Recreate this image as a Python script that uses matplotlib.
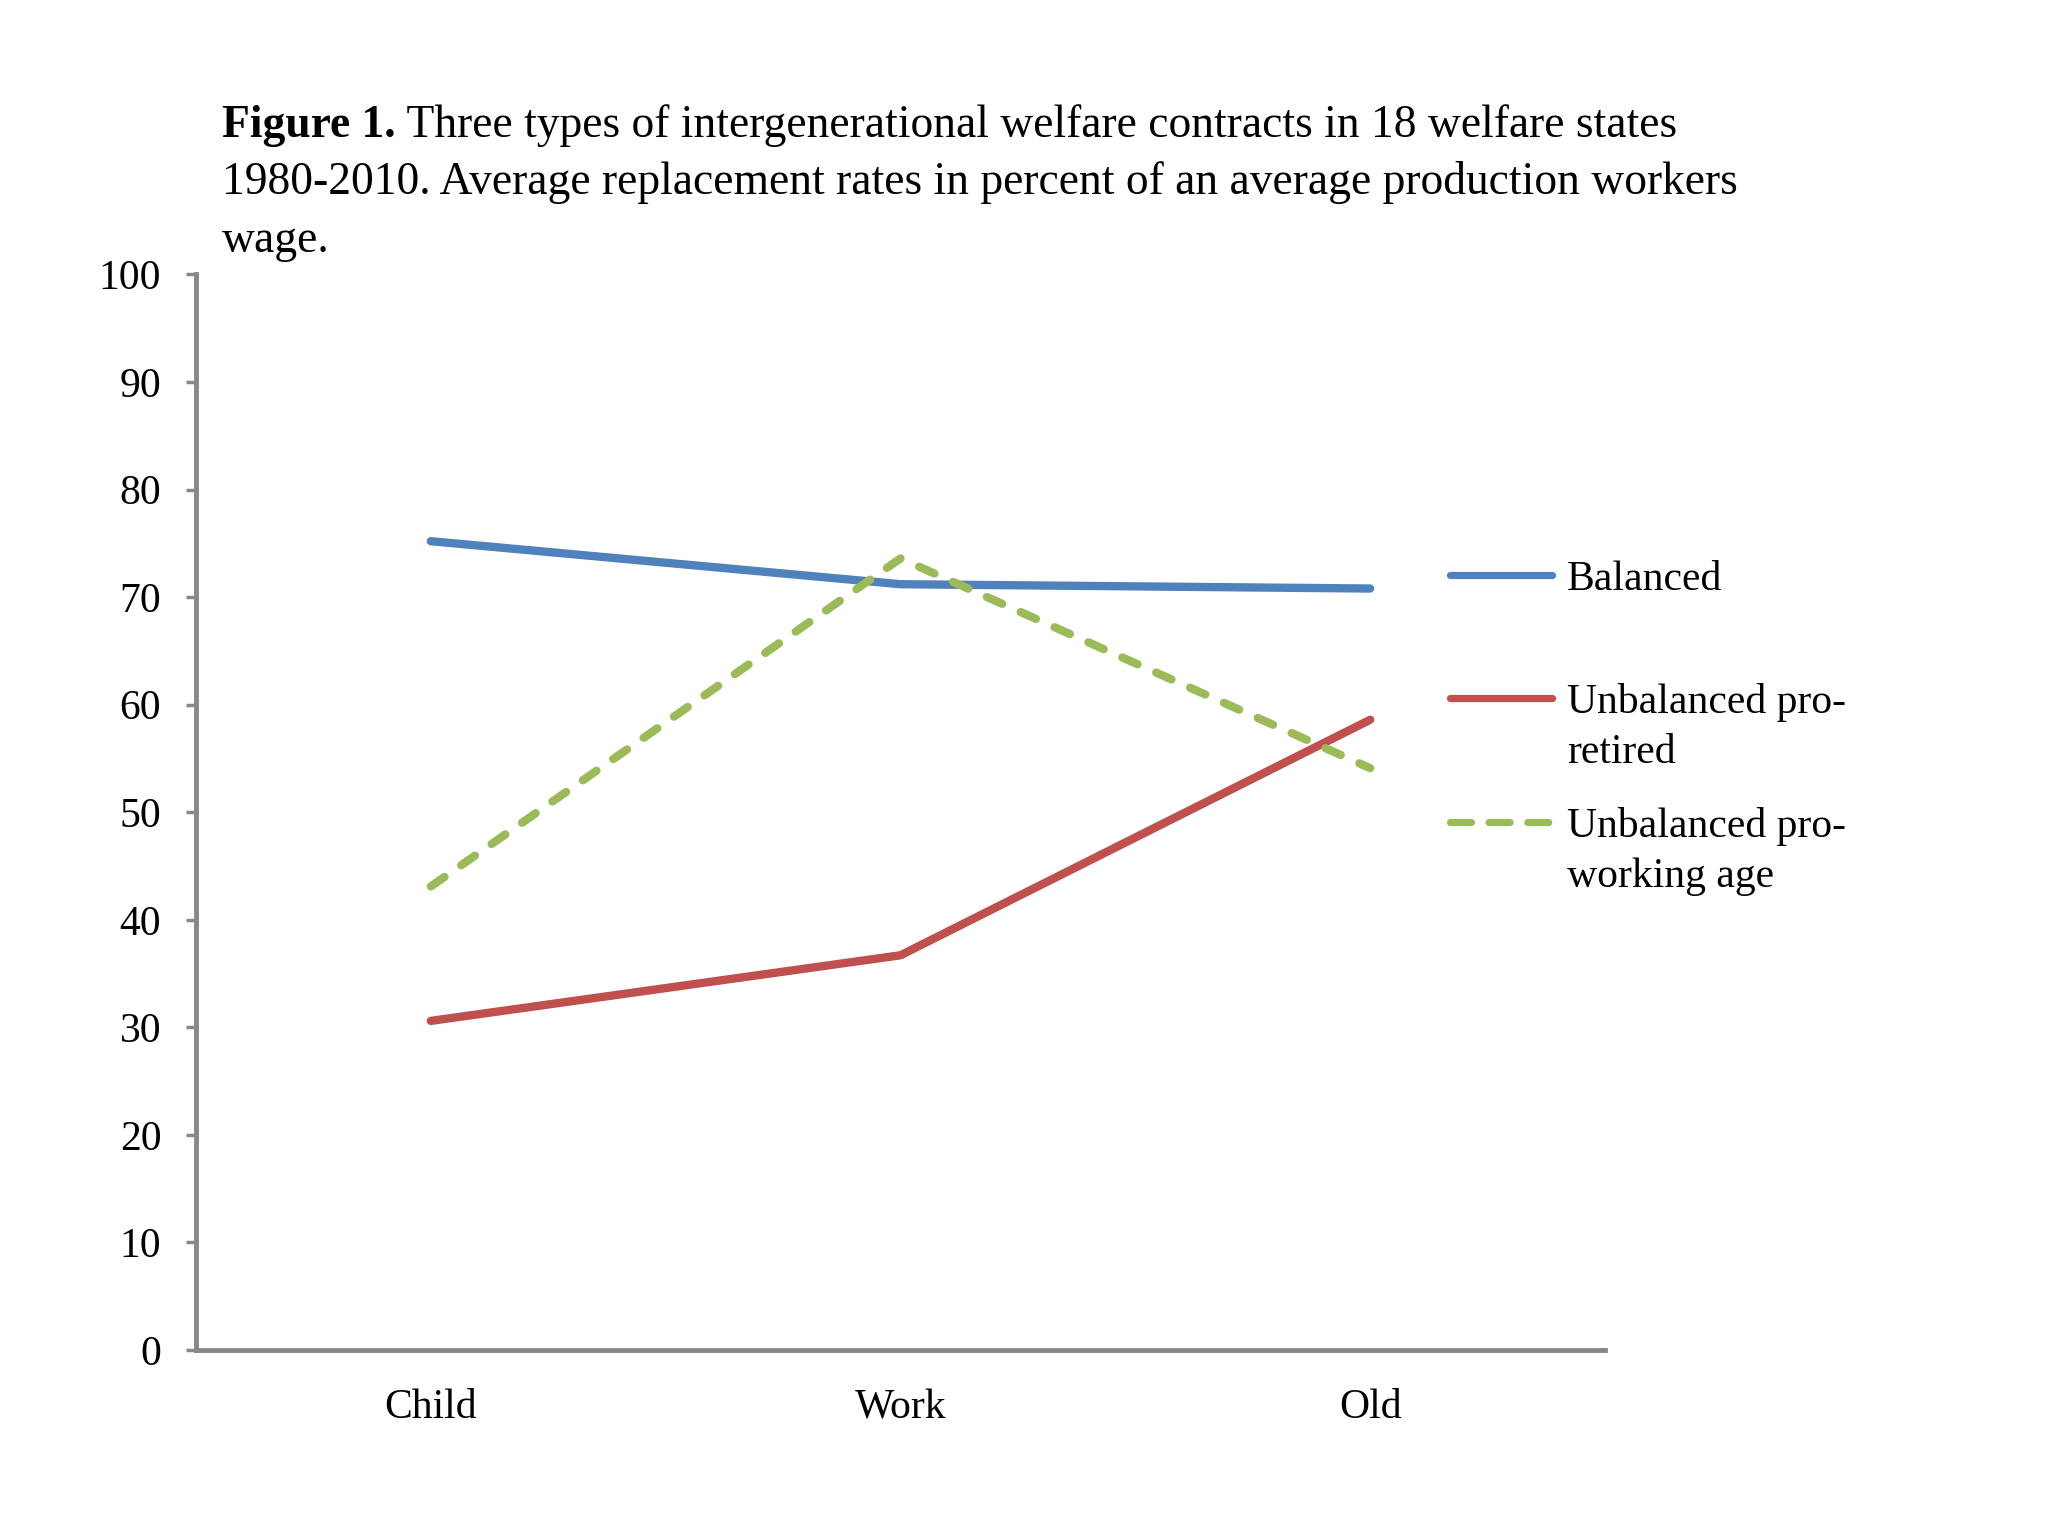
import matplotlib
matplotlib.use('Agg')
from matplotlib import pyplot as plt
from matplotlib.lines import Line2D

plt.rcParams['font.family'] = ['Liberation Serif', 'DejaVu Serif']

# data
categories = ['Child', 'Work', 'Old']
balanced = [75.2, 71.2, 70.8]
pro_retired = [30.6, 36.7, 58.6]
pro_working = [43.1, 73.6, 54.1]

series_labels = ['Balanced', 'Unbalanced pro-\nretired', 'Unbalanced pro-\nworking age']
y_ticks = [0, 10, 20, 30, 40, 50, 60, 70, 80, 90, 100]

blue = '#4F81BD'
red = '#C0504D'
green = '#9BBB59'

fig = plt.figure(figsize=(20.48, 15.36), dpi=100)
ax = fig.add_axes([0.0957, 0.1211, 0.6880, 0.7002])

x = list(range(len(categories)))
ax.plot(x, balanced, color=blue, lw=6, solid_capstyle='round')
ax.plot(x, pro_retired, color=red, lw=6, solid_capstyle='round')
ax.plot(x, pro_working, color=green, lw=6, linestyle=(0, (2.0, 2.45)),
        dash_capstyle='round')

ax.set_xlim(-0.5, len(categories) - 0.5)
ax.set_ylim(0, 100)
ax.set_yticks(y_ticks)
ax.set_xticks(x)
ax.set_xticklabels(categories)

for side in ['top', 'right']:
    ax.spines[side].set_visible(False)
for side in ['left', 'bottom']:
    ax.spines[side].set_color('#888888')
    ax.spines[side].set_linewidth(3.5)
ax.tick_params(axis='y', length=7, width=2.5, color='#888888', pad=18, labelsize=30)
ax.tick_params(axis='x', length=0, pad=28, labelsize=30)

# legend drawn by hand so that keys line up with the first line of each label
leg_colors = [blue, red, green]
leg_styles = ['-', '-', (0, (2.9, 2.45))]
leg_y = [0.6257, 0.5456, 0.4648]
line_step = 0.0326
for lab, c, ls, yy in zip(series_labels, leg_colors, leg_styles, leg_y):
    fig.add_artist(Line2D([0.708, 0.758], [yy, yy], color=c, lw=5.2, linestyle=ls,
                          solid_capstyle='round', dash_capstyle='round'))
    for i, part in enumerate(lab.split('\n')):
        fig.text(0.765, yy - i * line_step, part, fontsize=30, va='center_baseline')

# title, bold lead-in followed by normal text
title_size = 32.8
t1 = fig.text(0.1085, 0.911, 'Figure 1.', fontsize=title_size, fontweight='bold', va='baseline')
ax.annotate(' Three types of intergenerational welfare contracts in 18 welfare states',
            xy=(1, 0), xycoords=t1, fontsize=title_size, va='bottom', ha='left',
            annotation_clip=False)
fig.text(0.1085, 0.8735, '1980-2010. Average replacement rates in percent of an average production workers',
         fontsize=title_size, va='baseline')
fig.text(0.1085, 0.836, 'wage.', fontsize=title_size, va='baseline')

fig.savefig('out.png', dpi=100)
